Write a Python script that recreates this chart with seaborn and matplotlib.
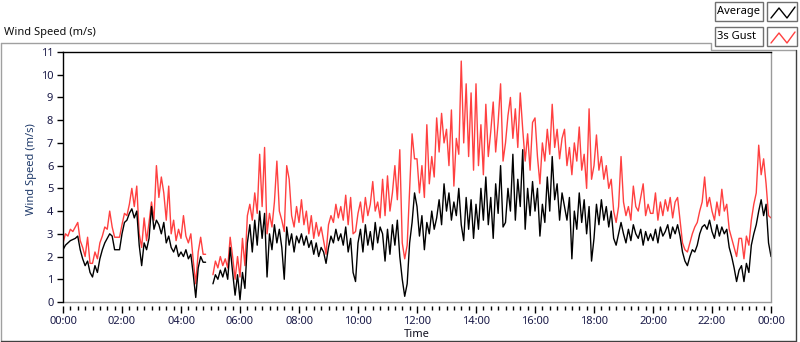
import numpy as np
import pandas as pd
import matplotlib
matplotlib.use("Agg")
import matplotlib.pyplot as plt
import seaborn as sns
from matplotlib.lines import Line2D
from matplotlib.patches import Rectangle

nan = np.nan

# 5-minute samples, 00:00 .. 24:00 (12 values per hour + final value)
avg_speed = [
    2.3, 2.5, 2.6, 2.7, 2.75, 2.8, 2.9, 2.3, 1.9, 1.6, 1.8, 1.3,
    1.1, 1.6, 1.3, 1.9, 2.3, 2.6, 2.8, 3.0, 2.9, 2.3, 2.3, 2.3,
    3.0, 3.5, 3.6, 3.9, 4.1, 3.7, 4.0, 2.5, 1.6, 2.6, 2.3, 2.8,
    4.2, 3.2, 3.6, 3.4, 3.0, 3.5, 2.6, 2.9, 2.4, 2.2, 2.5, 2.0,
    2.2, 2.0, 2.3, 1.9, 2.1, 1.2, 0.2, 1.5, 2.0, 1.75, 1.75, nan,
    nan, 0.8, 1.2, 1.0, 1.4, 1.1, 1.5, 1.0, 2.4, 1.3, 0.3, 1.2,
    0.1, 1.3, 0.6, 2.6, 3.4, 2.2, 3.6, 2.5, 4.0, 2.8, 3.9, 1.1,
    3.0, 2.3, 3.4, 2.6, 3.2, 2.4, 1.0, 3.3, 2.5, 3.0, 2.2, 2.9,
    2.6, 3.0, 2.5, 2.9, 2.4, 2.7, 2.1, 2.6, 2.0, 2.4, 2.2, 1.7,
    2.4, 2.9, 2.6, 3.2, 2.7, 3.0, 2.5, 3.3, 2.2, 2.8, 1.3, 0.9,
    2.6, 3.2, 2.2, 3.4, 2.5, 3.1, 2.3, 3.5, 2.6, 3.3, 3.0, 1.8,
    3.2, 2.1, 3.4, 2.5, 3.6, 2.0, 1.0, 0.25, 0.8, 2.6, 3.5, 4.8,
    4.2, 2.9, 3.8, 2.3, 3.5, 3.0, 4.0, 3.2, 3.7, 4.5, 3.4, 5.2,
    4.0, 4.8, 3.6, 4.4, 3.8, 5.0, 3.4, 2.7, 4.6, 3.2, 4.5, 2.8,
    4.3, 3.2, 5.0, 3.6, 5.5, 3.4, 4.6, 2.8, 5.2, 3.9, 6.0, 3.3,
    3.5, 5.0, 4.0, 6.5, 3.6, 5.4, 4.2, 6.7, 3.2, 5.0, 3.8, 5.3,
    4.0, 5.0, 2.9, 4.3, 3.5, 5.5, 4.0, 6.4, 4.5, 5.2, 3.6, 4.8,
    4.2, 3.6, 4.6, 1.9, 4.0, 3.2, 4.8, 3.5, 4.5, 3.0, 4.2, 1.8,
    2.8, 4.3, 3.4, 4.5, 3.6, 4.2, 3.3, 4.0, 2.8, 2.5, 3.0, 3.5,
    3.0, 2.6, 3.2, 2.7, 3.4, 3.0, 2.8, 3.2, 2.5, 3.1, 2.7, 3.0,
    2.7, 3.2, 2.6, 3.3, 2.9, 3.1, 3.4, 2.8, 3.3, 3.0, 3.4, 2.9,
    2.2, 1.8, 1.6, 2.0, 2.3, 2.2, 2.5, 3.0, 3.3, 3.4, 3.2, 3.6,
    3.1, 2.8, 3.4, 2.9, 3.3, 3.0, 3.2, 2.4, 2.0, 1.5, 0.9, 1.4,
    1.6, 0.9, 1.7, 1.3, 2.5, 3.0, 3.4, 4.0, 4.5, 3.8, 4.3, 2.6,
    2.0,
]

gust_speed = [
    2.6, 3.0, 2.9, 3.2, 3.1, 3.3, 3.5, 2.7, 2.4, 2.0, 2.85, 1.7,
    1.7, 2.2, 1.9, 2.6, 2.9, 3.3, 3.2, 4.0, 3.3, 2.85, 2.85, 2.85,
    3.4, 3.9, 3.8, 4.3, 5.0, 4.2, 5.1, 3.0, 2.4, 3.7, 2.7, 3.5,
    4.4, 3.6, 6.0, 4.6, 5.5, 4.8, 3.6, 5.1, 3.0, 3.6, 2.7, 3.2,
    2.8, 3.8, 2.9, 2.6, 3.0, 1.8, 0.8, 2.2, 2.85, 2.1, 2.1, nan,
    nan, 1.2, 1.8, 1.5, 2.0, 1.6, 1.9, 1.5, 2.85, 2.0, 1.0, 2.0,
    1.1, 2.8, 1.6, 3.8, 4.3, 3.6, 4.8, 3.9, 6.5, 4.2, 6.8, 3.0,
    3.9, 3.3, 4.4, 6.2, 4.0, 3.6, 3.1, 6.0, 5.4, 3.8, 3.3, 4.2,
    3.5, 4.5, 3.4, 4.0, 3.0, 3.8, 2.8, 3.5, 2.9, 3.3, 2.7, 2.1,
    3.4, 3.8, 3.5, 4.3, 3.7, 4.2, 3.6, 4.7, 3.4, 4.6, 3.0, 3.1,
    3.9, 4.4, 3.5, 4.6, 3.8, 4.3, 5.3, 4.0, 4.4, 3.7, 5.4, 3.8,
    5.55, 4.0, 4.8, 6.0, 4.5, 6.7, 2.6, 1.9, 2.5, 5.0, 7.4, 6.3,
    6.3, 4.8, 6.0, 4.6, 7.8, 5.2, 6.4, 5.5, 8.1, 6.6, 8.3, 7.0,
    7.6, 6.0, 8.45, 5.1, 7.2, 6.5, 10.6, 7.0, 9.6, 6.4, 9.2, 5.8,
    9.6, 6.0, 7.8, 5.6, 8.7, 6.4, 7.5, 8.8, 6.6, 7.9, 9.6, 6.2,
    7.0, 8.2, 9.0, 7.2, 8.5, 6.8, 9.2, 7.6, 6.2, 7.4, 5.8, 7.9,
    8.1, 6.4, 5.2, 7.0, 6.2, 7.6, 6.5, 8.7, 6.8, 7.6, 6.3, 7.2,
    7.6, 6.0, 6.8, 5.6, 7.0, 6.2, 7.7, 5.8, 6.5, 5.0, 8.5, 5.4,
    6.0, 7.35, 5.8, 6.4, 5.4, 6.0, 5.0, 5.4, 4.0, 3.5, 4.2, 6.4,
    4.4, 3.8, 4.2, 3.6, 5.1, 4.2, 4.0, 4.6, 5.2, 3.8, 4.3, 3.9,
    3.9, 4.8, 3.6, 4.4, 3.8, 4.5, 4.0, 4.6, 3.7, 4.4, 4.6, 3.6,
    2.6, 2.3, 2.2, 2.6, 3.0, 3.3, 3.5, 4.0, 4.4, 5.5, 4.2, 4.6,
    4.0, 3.6, 4.4, 3.8, 4.96, 4.0, 4.3, 3.2, 2.8, 2.4, 2.0, 2.8,
    2.8, 1.9, 2.9, 2.5, 3.6, 4.3, 4.8, 6.9, 5.6, 6.3, 5.2, 3.8,
    3.7,
]

sample_minutes = np.arange(0, 24 * 60 + 1, 5)
major_hours = list(range(0, 25, 2))
major_labels = ["00:00", "02:00", "04:00", "06:00", "08:00", "10:00", "12:00",
                "14:00", "16:00", "18:00", "20:00", "22:00", "00:00"]
y_ticks = list(range(0, 12))
series_names = ["3s Gust", "Average"]
series_colors = {"3s Gust": "#ff4040", "Average": "#000000"}

frames = []
for name, vals in zip(series_names, [gust_speed, avg_speed]):
    v = np.array(vals, dtype=float)
    seg = np.cumsum(np.isnan(v))
    d = pd.DataFrame({"hour": sample_minutes / 60.0, "speed": v,
                      "series": name, "seg": seg})
    frames.append(d.dropna())
df = pd.concat(frames, ignore_index=True)

sns.set_theme(style="white")
plt.rcParams["font.family"] = ["Noto Sans", "DejaVu Sans"]

W, H = 800, 342
fig = plt.figure(figsize=(W / 100, H / 100), dpi=100)
fig.patch.set_facecolor("white")
ax = fig.add_axes([63 / W, 40 / H, 708 / W, 250 / H])

sns.lineplot(data=df, x="hour", y="speed", hue="series", units="seg",
             estimator=None, sort=False, hue_order=series_names,
             palette=series_colors, linewidth=1.0, legend=False, ax=ax)

ax.set_xlim(0, 24)
ax.set_ylim(0, 11)
ax.set_xticks(major_hours)
ax.set_xticklabels(major_labels)
ax.set_xticks(np.arange(0, 24.001, 0.25), minor=True)
ax.set_yticks(y_ticks)
ax.set_yticklabels([str(t) for t in y_ticks])

tick_col = "#1a1a48"
ax.tick_params(axis="x", which="major", direction="out", length=5, width=1,
               color="black", labelcolor=tick_col, labelsize=8, pad=2,
               bottom=True)
ax.tick_params(axis="x", which="minor", direction="out", length=3, width=1,
               color="black", bottom=True)
ax.tick_params(axis="y", which="major", direction="out", length=4, width=1,
               color="black", labelcolor=tick_col, labelsize=8, pad=3,
               left=True)

for s in ["top", "left"]:
    ax.spines[s].set_color("black")
    ax.spines[s].set_linewidth(1)
ax.spines["right"].set_color("#9a9a9a")
ax.spines["right"].set_linewidth(1)
ax.spines["bottom"].set_position(("outward", 3))
ax.spines["bottom"].set_visible(False)
ax.plot([0, 1], [0, 0], transform=ax.transAxes, color="#9a9a9a", lw=1,
        clip_on=False)

ax.set_xlabel("Time", fontsize=8, color="#101020")
ax.xaxis.set_label_coords(0.5, -0.108)
ax.set_ylabel("Wind Speed (m/s)", fontsize=8, color="#1f3a6a")
ax.yaxis.set_label_coords(-0.037, 0.53)


def fx(x):
    return x / W


def fy(y):
    return 1 - y / H


def fline(xs, ys, color, lw=1.0):
    fig.add_artist(Line2D([fx(x) for x in xs], [fy(y) for y in ys],
                          transform=fig.transFigure, color=color, lw=lw))


# outer frame
fline([0.5, 711, 711, 796], [42.5, 42.5, 49.5, 49.5], "#a0a0a0")
fline([0.5, 0.5], [42.5, 341], "#a0a0a0")
fline([796, 796], [49.5, 341], "#404040")
fline([0.5, 796], [341, 341], "#404040")

fig.text(fx(4), fy(32), "Wind Speed (m/s)", fontsize=8, color="#101010",
         ha="left", va="center")

# legend boxes
for i, name in enumerate(["Average", "3s Gust"]):
    y0 = 2 + i * 25
    fig.add_artist(Rectangle((fx(715), fy(y0 + 19)), 48 / W, 19 / H,
                             transform=fig.transFigure, facecolor="white",
                             edgecolor="#707070", lw=1))
    fig.add_artist(Rectangle((fx(767), fy(y0 + 19)), 30 / W, 19 / H,
                             transform=fig.transFigure, facecolor="white",
                             edgecolor="#707070", lw=1))
    fig.text(fx(717), fy(y0 + 9.5), name, fontsize=8, color="black",
             ha="left", va="center")
    fline([771, 779, 787, 795], [y0 + 16, y0 + 6, y0 + 16, y0 + 5],
          series_colors[name])

fig.savefig("out.png", dpi=100, facecolor="white")
